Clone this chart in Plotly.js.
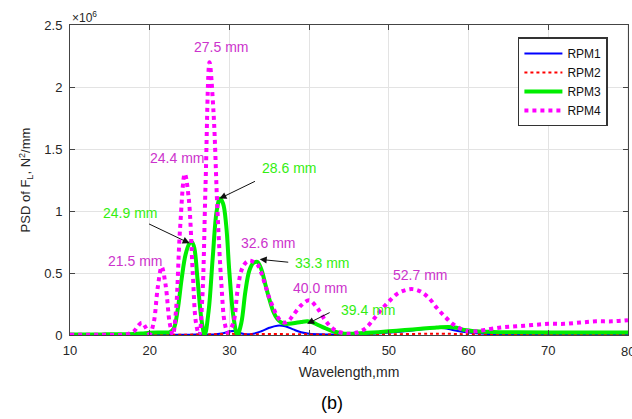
<!DOCTYPE html>
<html>
<head>
<meta charset="utf-8">
<script src="https://cdn.plot.ly/plotly-3.0.1.min.js"></script>
<style>html,body{margin:0;padding:0;background:#fff}#chart{width:632px;height:419px}</style>
</head>
<body>
<div id="chart"></div>
<script>
// Wavelength (mm) and PSD values in units of 10^6 N^2/mm
const rpm1X = [10, 15, 20, 25, 28, 29, 30, 30.5, 31, 32, 33, 34, 35, 36, 37, 38, 39, 40, 42, 45, 48, 50, 52, 54, 56, 57, 58, 60, 62, 65, 70, 75, 80];
const rpm1Y = [0.002, 0.002, 0.002, 0.003, 0.005, 0.012, 0.028, 0.032, 0.022, 0.006, 0.01, 0.03, 0.058, 0.075, 0.07, 0.045, 0.022, 0.01, 0.005, 0.005, 0.01, 0.02, 0.03, 0.045, 0.058, 0.055, 0.04, 0.02, 0.01, 0.005, 0.004, 0.003, 0.003];

const rpm2X = [10, 20, 25, 28, 30, 32, 35, 40, 45, 50, 55, 57, 60, 65, 70, 80];
const rpm2Y = [0.002, 0.002, 0.003, 0.006, 0.01, 0.006, 0.008, 0.005, 0.004, 0.006, 0.01, 0.01, 0.006, 0.004, 0.003, 0.003];

const rpm3X = [10, 14, 18, 19, 20, 21, 22, 22.5, 23, 23.5, 24, 24.5, 25, 25.3, 25.6, 26, 26.5, 26.9, 27.4, 27.9, 28.4, 28.8, 29.2, 29.6, 30, 30.5, 31, 31.5, 32, 32.5, 33, 33.5, 34, 34.5, 35, 35.5, 36, 36.5, 37, 38, 39, 39.8, 40.5, 41, 42, 43, 44, 45, 46, 48, 50, 52, 54, 56, 57.5, 58.5, 59.5, 61, 63, 66, 70, 75, 80];
const rpm3Y = [0.005, 0.005, 0.008, 0.012, 0.018, 0.02, 0.02, 0.022, 0.05, 0.2, 0.45, 0.65, 0.74, 0.75, 0.7, 0.45, 0.12, 0.0, 0.2, 0.62, 1.0, 1.1, 1.06, 0.88, 0.5, 0.15, 0.0, 0.1, 0.35, 0.52, 0.58, 0.59, 0.53, 0.41, 0.29, 0.19, 0.13, 0.1, 0.09, 0.095, 0.105, 0.11, 0.1, 0.085, 0.055, 0.03, 0.015, 0.01, 0.012, 0.02, 0.03, 0.04, 0.05, 0.06, 0.065, 0.058, 0.04, 0.03, 0.025, 0.022, 0.02, 0.02, 0.02];

const rpm4X = [10, 14, 17, 18, 18.5, 19, 19.5, 20, 20.5, 21, 21.5, 22, 22.5, 22.9, 23.3, 23.8, 24.4, 24.9, 25.4, 25.8, 26.2, 26.6, 27, 27.5, 28, 28.5, 29, 29.4, 29.8, 30.5, 31, 31.5, 32, 32.5, 33, 33.5, 34, 34.5, 35, 35.5, 36, 36.5, 37, 37.5, 38, 39, 40, 41, 42, 43, 44, 45, 46, 47, 48, 49, 50, 51, 52, 53, 54, 55, 56, 57, 58, 59, 60, 61, 62, 64, 66, 68, 70, 72, 74, 76, 78, 80];
const rpm4Y = [0.002, 0.002, 0.005, 0.03, 0.07, 0.1, 0.06, 0.01, 0.1, 0.38, 0.55, 0.4, 0.1, 0.0, 0.2, 0.85, 1.3, 1.1, 0.5, 0.1, 0.0, 0.3, 1.2, 2.2, 1.8, 1.0, 0.4, 0.1, 0.02, 0.1, 0.35, 0.52, 0.58, 0.6, 0.59, 0.57, 0.5, 0.4, 0.3, 0.22, 0.15, 0.11, 0.1, 0.12, 0.16, 0.24, 0.28, 0.22, 0.12, 0.05, 0.02, 0.01, 0.02, 0.05, 0.12, 0.2, 0.27, 0.33, 0.36, 0.37, 0.35, 0.3, 0.22, 0.15, 0.09, 0.05, 0.03, 0.03, 0.04, 0.06, 0.07, 0.08, 0.09, 0.09, 0.1, 0.11, 0.11, 0.12];

const seriesNames = ['RPM1', 'RPM2', 'RPM3', 'RPM4'];
const yTicks = [0, 0.5, 1, 1.5, 2, 2.5];
const yTickText = ['0', '0.5', '1', '1.5', '2', '2.5'];
const xTicks = [10, 20, 30, 40, 50, 60, 70, 80];

// peak labels: [text, x, y]
const pinkLabels = [['27.5 mm', 29.0, 2.32], ['24.4 mm', 23.4, 1.43], ['21.5 mm', 18.1, 0.60], ['32.6 mm', 34.9, 0.74], ['40.0 mm', 41.4, 0.38], ['52.7 mm', 53.9, 0.48]];
const greenLabels = [['24.9 mm', 17.5, 0.98], ['28.6 mm', 37.5, 1.35], ['33.3 mm', 41.6, 0.58], ['39.4 mm', 47.4, 0.20]];
// arrows: head x, head y, tail offset ax, ay (px)
const arrows = [[25.0, 0.74, -42, -20], [28.75, 1.10, 37, -18], [33.8, 0.61, 30, 3], [39.75, 0.09, 24, -12]];

const FONT = 'Liberation Sans, Arial, sans-serif';

const traces = [
  {x: rpm1X, y: rpm1Y, name: seriesNames[0], mode: 'lines', line: {color: '#0000ff', width: 2, shape: 'spline'}},
  {x: rpm2X, y: rpm2Y, name: seriesNames[1], mode: 'lines', line: {color: '#ff0000', width: 2, dash: 'dot', shape: 'spline'}},
  {x: rpm3X, y: rpm3Y, name: seriesNames[2], mode: 'lines', line: {color: '#00ee00', width: 4, shape: 'spline'}},
  {x: rpm4X, y: rpm4Y, name: seriesNames[3], mode: 'lines', line: {color: '#ff00ff', width: 4, dash: 'dot', shape: 'spline'}}
];

const annotations = [];
pinkLabels.forEach(l => annotations.push({x: l[1], y: l[2], xref: 'x', yref: 'y', text: l[0], showarrow: false, font: {family: FONT, size: 14, color: '#cc33cc'}}));
greenLabels.forEach(l => annotations.push({x: l[1], y: l[2], xref: 'x', yref: 'y', text: l[0], showarrow: false, font: {family: FONT, size: 14, color: '#33ee11'}}));
arrows.forEach(a => annotations.push({x: a[0], y: a[1], xref: 'x', yref: 'y', ax: a[2], ay: a[3], text: '', showarrow: true, arrowhead: 2, arrowsize: 1.4, arrowwidth: 1, arrowcolor: '#111', standoff: 0}));
annotations.push({xref: 'paper', yref: 'paper', x: 0, y: 1, xanchor: 'left', yanchor: 'bottom', text: '×10<sup>6</sup>', showarrow: false, font: {family: FONT, size: 12, color: '#262626'}, yshift: -2});
annotations.push({xref: 'x', yref: 'paper', x: xTicks[xTicks.length - 1], y: 0, xanchor: 'center', yanchor: 'top', yshift: -7, text: String(xTicks[xTicks.length - 1]), showarrow: false, font: {family: FONT, size: 13, color: '#262626'}});
annotations.push({xref: 'paper', yref: 'paper', x: 0.4695, y: -0.219, xanchor: 'center', yanchor: 'middle', text: '(b)', showarrow: false, font: {family: FONT, size: 18, color: '#000'}});

const layout = {
  width: 632, height: 419,
  margin: {l: 70, r: 4, t: 25, b: 84},
  paper_bgcolor: '#fff', plot_bgcolor: '#fff',
  font: {family: FONT, size: 13, color: '#262626'},
  showlegend: true,
  legend: {x: 0.964, y: 0.96, xanchor: 'right', yanchor: 'top', bgcolor: '#fff', bordercolor: '#333', borderwidth: 1.5, font: {family: FONT, size: 12, color: '#111'}, tracegroupgap: 0, itemwidth: 38},
  xaxis: {range: [10, 80], tickvals: xTicks.slice(0, -1), ticks: 'inside', ticklen: 5, tickcolor: '#444', showline: true, linecolor: '#444', linewidth: 1, mirror: 'ticks', showgrid: true, gridcolor: '#e3e3e3', zeroline: false, title: {text: 'Wavelength,mm', font: {family: FONT, size: 14, color: '#262626'}, standoff: 10}, ticklabelstandoff: 3},
  yaxis: {range: [0, 2.5], tickvals: yTicks, ticktext: yTickText, ticks: 'inside', ticklen: 5, tickcolor: '#444', showline: true, linecolor: '#444', linewidth: 1, mirror: 'ticks', showgrid: true, gridcolor: '#e3e3e3', zeroline: false, title: {text: 'PSD of F<sub>L</sub>, N<sup>2</sup>/mm', font: {family: FONT, size: 13, color: '#262626'}, standoff: 10}, ticklabelstandoff: 4},
  shapes: [{type: 'line', xref: 'x', yref: 'paper', x0: 80, x1: 80, y0: 0, y1: 1, line: {color: '#e3e3e3', width: 1}, layer: 'below'}],
  annotations: annotations
};

Plotly.newPlot('chart', traces, layout, {displayModeBar: false, staticPlot: true});
</script>
</body>
</html>
